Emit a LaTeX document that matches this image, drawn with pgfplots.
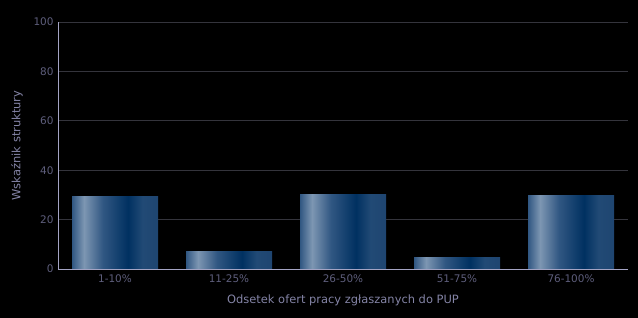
\documentclass[border=0pt]{standalone}
\usepackage{fontspec}
\setmainfont{DejaVu Sans}
\usepackage{pgfplots}
\pgfplotsset{compat=1.18}
\definecolor{tickc}{HTML}{5E5E7C}
\definecolor{labc}{HTML}{8484A6}
\definecolor{axc}{HTML}{A4A4C4}
\definecolor{gridc}{HTML}{34343C}
\pgfdeclarehorizontalshading{barshade}{100bp}{
  rgb(0bp)=(0.19,0.34,0.51);
  rgb(25bp)=(0.19,0.34,0.51);
  rgb(32bp)=(0.49,0.59,0.70);
  rgb(43bp)=(0.19,0.34,0.51);
  rgb(57.5bp)=(0.0,0.19,0.38);
  rgb(66bp)=(0.13,0.29,0.46);
  rgb(75bp)=(0.12,0.27,0.44);
  rgb(100bp)=(0.12,0.27,0.44)}
\pgfplotsset{mybar/.style={ybar, bar width=86bp, draw=none, shade, shading=barshade}}
\begin{document}
\begin{tikzpicture}
\fill[black] (0,0) rectangle (638bp,318bp);
\useasboundingbox (0,0) rectangle (638bp,318bp);
\begin{axis}[
  at={(58bp,49bp)}, anchor=south west,
  scale only axis, width=570bp, height=247bp,
  xmin=-0.5, xmax=4.5, ymin=0, ymax=100,
  xtick={0,1,2,3,4},
  xticklabels={1-10\%,11-25\%,26-50\%,51-75\%,76-100\%},
  ytick={0,20,40,60,80,100},
  major tick length=0pt,
  axis x line*=bottom, axis y line*=left,
  axis line style={draw=axc, line width=1pt},
  x axis line style={-}, y axis line style={-},
  ymajorgrids, grid style={draw=gridc, line width=1pt},
  tick label style={font=\fontsize{10.5}{12}\selectfont, text=tickc},
  /pgf/number format/assume math mode=true,
  xticklabel style={yshift=-2bp},
  yticklabel style={xshift=-1bp},
  label style={font=\fontsize{11.5}{13}\selectfont, text=labc},
  xlabel={Odsetek ofert pracy zgłaszanych do PUP},
  ylabel={Wskaźnik struktury},
  xlabel style={at={(axis description cs:0.5,-0.1255)}, anchor=center},
  ylabel style={at={(axis description cs:-0.072,0.5)}, anchor=center},
  clip=false,
]
\addplot[mybar] coordinates {(0,29.2)};
\addplot[mybar] coordinates {(1,6.9)};
\addplot[mybar] coordinates {(2,30.0)};
\addplot[mybar] coordinates {(3,4.5)};
\addplot[mybar] coordinates {(4,29.6)};
\end{axis}
\end{tikzpicture}
\end{document}
